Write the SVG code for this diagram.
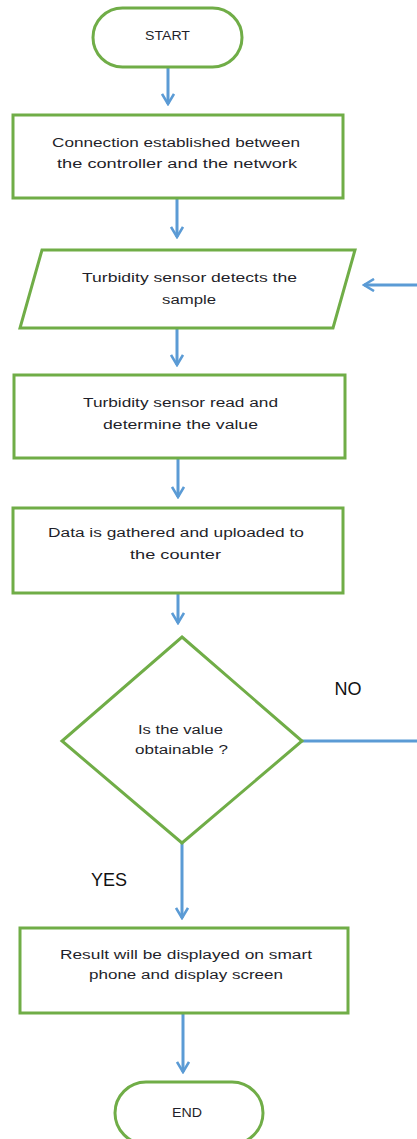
<svg xmlns="http://www.w3.org/2000/svg" width="417" height="1139" viewBox="0 0 417 1139">
  <style>
    .shape { fill: #ffffff; stroke: #70AD47; stroke-width: 3; }
    .txt { font-family: "Liberation Sans", Arial, sans-serif; font-size: 12.5px; fill: #1f1f2a; text-anchor: middle; }
    .lbl { font-family: "Liberation Sans", Arial, sans-serif; font-size: 18px; fill: #111111; text-anchor: middle; }
    .flow { fill: none; stroke: #5B9BD5; stroke-width: 3; }
  </style>
  <defs>
    <marker id="arrow" viewBox="0 0 14 14" refX="12" refY="7" markerWidth="14" markerHeight="14" markerUnits="userSpaceOnUse" orient="auto">
      <polyline points="2,1 12,7 2,13" fill="none" stroke="#5B9BD5" stroke-width="2.6" stroke-linejoin="miter"/>
    </marker>
  </defs>
  <rect width="417" height="1139" fill="#ffffff"/>

  <g id="connectors">
    <line class="flow" x1="168" y1="67" x2="168" y2="104" marker-end="url(#arrow)"/>
    <line class="flow" x1="177" y1="198" x2="177" y2="237" marker-end="url(#arrow)"/>
    <line class="flow" x1="177" y1="328" x2="177" y2="365" marker-end="url(#arrow)"/>
    <line class="flow" x1="178" y1="458" x2="178" y2="497" marker-end="url(#arrow)"/>
    <line class="flow" x1="178" y1="593" x2="178" y2="623" marker-end="url(#arrow)"/>
    <line class="flow" x1="302" y1="741" x2="417" y2="741"/>
    <line class="flow" x1="417" y1="285" x2="364" y2="285" marker-end="url(#arrow)"/>
    <line class="flow" x1="182" y1="843" x2="182" y2="918" marker-end="url(#arrow)"/>
    <line class="flow" x1="183" y1="1013" x2="183" y2="1072" marker-end="url(#arrow)"/>
  </g>

  <g id="start">
    <rect class="shape" x="93" y="8" width="149" height="59" rx="29.5" ry="29.5"/>
    <text class="txt" x="167.5" y="40" font-size="12" textLength="45" lengthAdjust="spacingAndGlyphs">START</text>
  </g>

  <g id="connect">
    <rect class="shape" x="13" y="115" width="330" height="83"/>
    <text class="txt" x="176" y="147" textLength="248" lengthAdjust="spacingAndGlyphs">Connection established between</text>
    <text class="txt" x="177" y="168" textLength="240" lengthAdjust="spacingAndGlyphs">the controller and the network</text>
  </g>

  <g id="detect">
    <polygon class="shape" points="42,250 355,250 333,328 20,328"/>
    <text class="txt" x="189.5" y="282" textLength="215" lengthAdjust="spacingAndGlyphs">Turbidity sensor detects the</text>
    <text class="txt" x="189" y="304" textLength="54" lengthAdjust="spacingAndGlyphs">sample</text>
  </g>

  <g id="read">
    <rect class="shape" x="14" y="375" width="331" height="83"/>
    <text class="txt" x="180.5" y="407" textLength="195" lengthAdjust="spacingAndGlyphs">Turbidity sensor read and</text>
    <text class="txt" x="180.5" y="429" textLength="155" lengthAdjust="spacingAndGlyphs">determine the value</text>
  </g>

  <g id="upload">
    <rect class="shape" x="13" y="508" width="330" height="85"/>
    <text class="txt" x="176" y="537" textLength="256" lengthAdjust="spacingAndGlyphs">Data is gathered and uploaded to</text>
    <text class="txt" x="175.5" y="559" textLength="91" lengthAdjust="spacingAndGlyphs">the counter</text>
  </g>

  <g id="decision">
    <polygon class="shape" points="182,637 302,741 182,843 62,741"/>
    <text class="txt" x="180.5" y="734" textLength="85" lengthAdjust="spacingAndGlyphs">Is the value</text>
    <text class="txt" x="181.5" y="754" textLength="93" lengthAdjust="spacingAndGlyphs">obtainable ?</text>
  </g>

  <g id="labels">
    <text class="lbl" x="348" y="695">NO</text>
    <text class="lbl" x="109" y="886">YES</text>
  </g>

  <g id="display">
    <rect class="shape" x="20" y="928" width="328" height="85"/>
    <text class="txt" x="186" y="959" textLength="252" lengthAdjust="spacingAndGlyphs">Result will be displayed on smart</text>
    <text class="txt" x="186" y="979" textLength="194" lengthAdjust="spacingAndGlyphs">phone and display screen</text>
  </g>

  <g id="end">
    <rect class="shape" x="115" y="1082" width="148" height="62" rx="31" ry="31"/>
    <text class="txt" x="187" y="1117" font-size="12" textLength="30" lengthAdjust="spacingAndGlyphs">END</text>
  </g>
</svg>
